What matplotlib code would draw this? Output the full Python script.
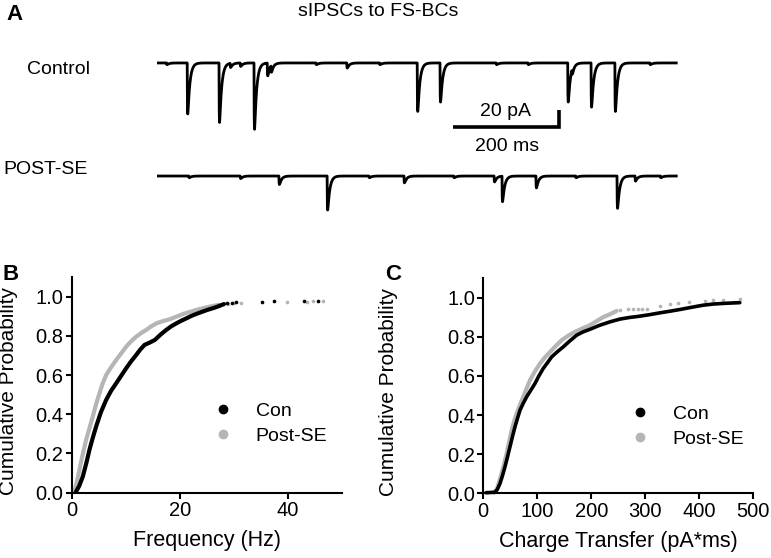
import numpy as np
import matplotlib
matplotlib.use("Agg")
import matplotlib.pyplot as plt
from matplotlib.lines import Line2D

plt.rcParams["font.family"] = ["Liberation Sans", "DejaVu Sans"]

W, H = 771, 558
GRAY = "#b5b5b5"

# --- panel A: sIPSC events (time in ms, amplitude in pA) ---
trace_ms = 980
con_event_t = [18, 57, 117, 138, 157, 183, 208, 215, 300, 358, 420, 491, 534, 640,
               700, 775, 783, 819, 864, 930]
con_event_amp = [2, 60, 70, 5, 4, 78, 15, 8, 2, 6, 2, 57, 46, 2, 2, 46, 6, 52, 57, 2]
post_event_t = [60, 157, 230, 321, 400, 466, 560, 636, 651, 715, 790, 868, 902, 950]
post_event_amp = [2, 3, 10, 40, 2, 8, 2, 7, 30, 14, 2, 38, 6, 2]
post_offset = -133  # pA, vertical offset of the POST-SE trace
scale_ms, scale_pa = 200, 20

# --- panel B: cumulative frequency (Hz) ---
b_con_x = [0.8, 1.4, 2.05, 2.7, 3.28, 3.9, 4.52, 5.4, 6.38, 7.3, 8.24, 9.2, 10.1, 11.0,
           11.96, 12.7, 13.5, 14.4, 15.4, 16.4, 17.5, 18.4, 19.4, 20.3, 21.3, 22.2,
           23.1, 24.1, 25.1, 26.3, 27.3, 28.2]
b_con_y = [0.005, 0.035, 0.082, 0.15, 0.218, 0.28, 0.337, 0.41, 0.473, 0.52, 0.558,
           0.598, 0.635, 0.67, 0.703, 0.73, 0.754, 0.765, 0.779, 0.805, 0.830, 0.848,
           0.864, 0.877, 0.890, 0.902, 0.912, 0.922, 0.932, 0.942, 0.952, 0.962]
b_con_tail_x = [28.8, 29.6, 30.4, 35.3, 37.5, 43.0, 45.6]
b_con_tail_y = [0.966, 0.969, 0.972, 0.975, 0.977, 0.978, 0.979]
b_post_x = [0.5, 0.9, 1.42, 2.0, 2.66, 3.3, 3.9, 4.5, 5.14, 5.7, 6.38, 7.3, 8.24, 9.2,
            10.1, 11.0, 11.96, 12.9, 13.8, 14.7, 15.7, 16.9, 18.2, 19.4, 20.7, 21.9,
            23.1, 24.5, 25.9, 27.3]
b_post_y = [0.005, 0.05, 0.116, 0.19, 0.269, 0.33, 0.388, 0.45, 0.507, 0.555, 0.600,
            0.64, 0.677, 0.712, 0.745, 0.772, 0.796, 0.815, 0.830, 0.848, 0.864, 0.875,
            0.885, 0.898, 0.912, 0.922, 0.932, 0.942, 0.951, 0.958]
b_post_tail_x = [29.0, 30.1, 31.3, 39.9, 43.5, 44.7, 46.6]
b_post_tail_y = [0.962, 0.965, 0.966, 0.970, 0.974, 0.976, 0.978]

# --- panel C: cumulative charge transfer (pA*ms) ---
c_con_x = [5, 12, 18, 21.7, 26, 30.9, 35.5, 40.2, 45, 49.4, 54, 58.7, 63.3, 68, 74, 80.3,
           88, 95.7, 103, 111, 119, 126.6, 137, 148, 160, 173, 185, 197.6, 215, 234.6,
           253, 270, 290, 308.7, 327, 345, 364, 385, 407, 426, 450, 475]
c_con_y = [0.003, 0.004, 0.005, 0.006, 0.02, 0.05, 0.09, 0.136, 0.188, 0.238, 0.29,
           0.34, 0.383, 0.425, 0.46, 0.493, 0.527, 0.561, 0.6, 0.638, 0.668, 0.697,
           0.723, 0.748, 0.778, 0.808, 0.825, 0.838, 0.858, 0.876, 0.89, 0.898, 0.905,
           0.913, 0.922, 0.93, 0.939, 0.95, 0.961, 0.967, 0.971, 0.974]
c_post_x = [20, 25, 29, 34, 38.5, 43.3, 48, 52.6, 57, 61.8, 68, 74, 80, 86.5, 95, 105,
            114, 123.5, 134, 145, 157, 170, 184, 197.6, 210, 222, 234.6, 247]
c_post_y = [0.003, 0.02, 0.055, 0.102, 0.15, 0.204, 0.265, 0.323, 0.368, 0.408, 0.452,
            0.493, 0.535, 0.578, 0.62, 0.663, 0.694, 0.722, 0.752, 0.782, 0.805, 0.825,
            0.843, 0.859, 0.88, 0.9, 0.915, 0.932]
c_post_tail_x = [253, 268.6, 277.8, 287, 293, 302.5, 327, 346, 361, 380, 410.6, 426, 444, 475]
c_post_tail_y = [0.935, 0.940, 0.940, 0.942, 0.944, 0.944, 0.957, 0.969, 0.974, 0.977,
                 0.981, 0.986, 0.989, 0.994]

y_ticks = [0.0, 0.2, 0.4, 0.6, 0.8, 1.0]


def trace(times, amps, t):
    # sum of sIPSC waveforms (fast rise, exponential decay), inward = downward
    tau_r, tau_d = 0.4, 4.0
    tp = np.log(tau_d / tau_r) * tau_r * tau_d / (tau_d - tau_r)
    peak = np.exp(-tp / tau_d) - np.exp(-tp / tau_r)
    out = np.zeros_like(t)
    for t0, a in zip(times, amps):
        dt = np.clip(t - t0, 0, None)
        out -= a * (np.exp(-dt / tau_d) - np.exp(-dt / tau_r)) / peak
    return out


def fx(px):
    return px / W


def fy(py):
    return 1 - py / H


fig = plt.figure(figsize=(W / 100, H / 100), dpi=100)

# ---------- panel A ----------
axA = fig.add_axes([fx(157), fy(230), 522 / W, 190 / H])
t = np.arange(0, trace_ms, 0.2)
axA.plot(t, trace(con_event_t, con_event_amp, t), color="black", lw=2.0)
axA.plot(t, post_offset + trace(post_event_t, post_event_amp, t), color="black", lw=2.0)
sb_x, sb_y = 558, -75
axA.plot([sb_x, sb_x + scale_ms, sb_x + scale_ms], [sb_y, sb_y, sb_y + scale_pa],
         color="black", lw=2.6, solid_joinstyle="miter", solid_capstyle="butt")
axA.text(sb_x + 100, sb_y + 18, f"{scale_pa} pA", ha="center", va="center", fontsize=14)
axA.text(sb_x + 102, sb_y - 23, f"{scale_ms} ms", ha="center", va="center", fontsize=14)
axA.set_xlim(0, 985)
axA.set_ylim(-196.5, 27)
axA.axis("off")

fig.text(fx(6), fy(15), "A", fontsize=16, fontweight="bold", va="center", ha="left")
fig.text(fx(378), fy(12), "sIPSCs to FS-BCs", fontsize=14, ha="center", va="center")
fig.text(fx(58), fy(70), "Control", fontsize=14, ha="center", va="center")
fig.text(fx(3), fy(170), "POST-SE", fontsize=14, ha="left", va="center")


def cum_axes(rect, xmax, xticks, xlabel, ylabel_x):
    ax = fig.add_axes(rect)
    ax.set_xlim(0, xmax)
    ax.set_ylim(0, 1.1)
    ax.set_xticks(xticks)
    ax.set_yticks(y_ticks)
    ax.set_yticklabels([f"{v:.1f}" for v in y_ticks])
    for s in ["top", "right"]:
        ax.spines[s].set_visible(False)
    for s in ["left", "bottom"]:
        ax.spines[s].set_linewidth(1.5)
    ax.tick_params(direction="out", length=4, width=1.5, labelsize=14.5, pad=2)
    ax.set_xlabel(xlabel, fontsize=15.5)
    ax.xaxis.set_label_coords(0.5, -0.175)
    ax.set_ylabel("Cumulative Probability", fontsize=15)
    ax.yaxis.set_label_coords(ylabel_x, 0.47)
    return ax


def legend(ax, anchor):
    handles = [Line2D([], [], ls="none", marker="o", ms=6, color="black", label="Con"),
               Line2D([], [], ls="none", marker="o", ms=6, color=GRAY, label="Post-SE")]
    ax.legend(handles=handles, loc="center left", bbox_to_anchor=anchor, frameon=False,
              fontsize=14, handlelength=1.0, handletextpad=1.2, labelspacing=0.38,
              borderpad=0, borderaxespad=0)


# ---------- panel B ----------
axB = cum_axes([fx(71.7), fy(492.7), 270 / W, 215.7 / H], 50, [0, 20, 40],
               "Frequency (Hz)", -0.2)
axB.plot(b_post_x, b_post_y, color=GRAY, lw=3, solid_capstyle="round", clip_on=False)
axB.scatter(b_post_tail_x, b_post_tail_y, s=7, color=GRAY, lw=0)
axB.plot(b_con_x, b_con_y, color="black", lw=3, solid_capstyle="round", clip_on=False)
axB.scatter(b_con_tail_x, b_con_tail_y, s=7, color="black", lw=0)
legend(axB, (0.523, 0.321))
fig.text(fx(3), fy(275), "B", fontsize=16, fontweight="bold", va="center", ha="left")

# ---------- panel C ----------
axC = cum_axes([fx(483.3), fy(493.3), 270 / W, 215.3 / H], 500, [0, 100, 200, 300, 400, 500],
               "Charge Transfer (pA*ms)", -0.315)
axC.plot(c_post_x, c_post_y, color=GRAY, lw=3, solid_capstyle="round", clip_on=False)
axC.scatter(c_post_tail_x, c_post_tail_y, s=7, color=GRAY, lw=0)
axC.plot(c_con_x, c_con_y, color="black", lw=2.6, solid_capstyle="round", clip_on=False)
legend(axC, (0.543, 0.31))
fig.text(fx(385), fy(275), "C", fontsize=16, fontweight="bold", va="center", ha="left")

fig.savefig("out.png", dpi=100)
